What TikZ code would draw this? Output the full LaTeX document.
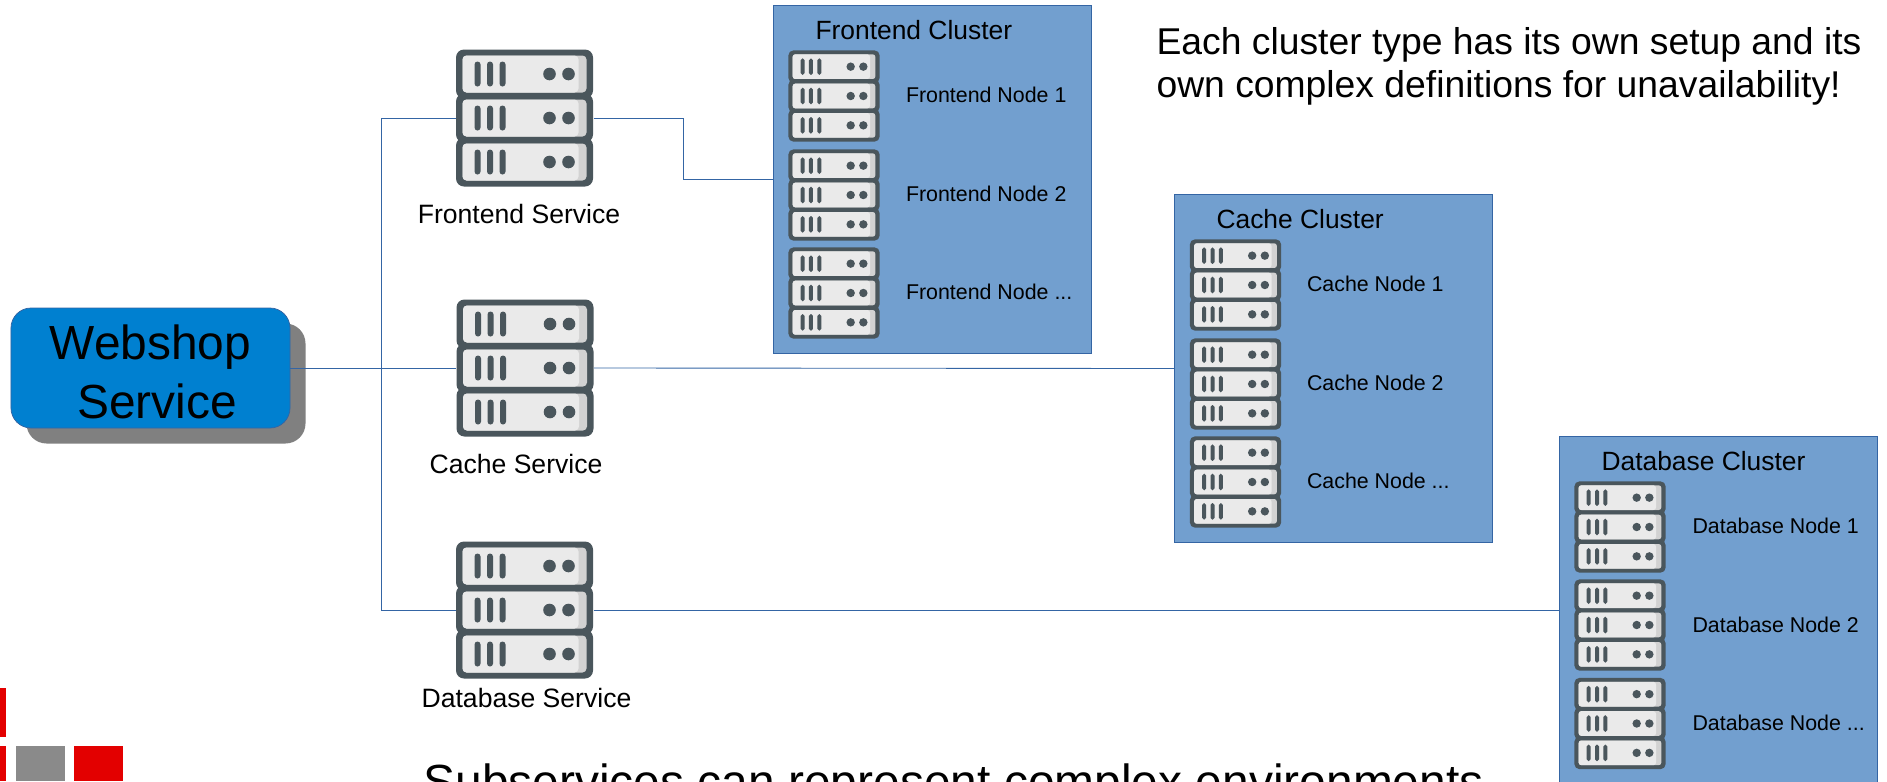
\documentclass[tikz,border=0pt]{standalone}
\usepackage{fontspec}
\usepackage{xcolor}
\usepackage{tikz}
\usetikzlibrary{shadows}
\setmainfont{Liberation Sans}
\definecolor{clusterblue}{HTML}{729FCF}
\definecolor{clusteredge}{HTML}{3465A4}
\definecolor{webshopblue}{HTML}{0080D0}
\definecolor{rackdark}{HTML}{4A565C}
\definecolor{racklight}{HTML}{EAEAEA}
\definecolor{rackshade}{HTML}{D2D2D2}
\definecolor{logored}{HTML}{E30000}
\definecolor{loggrey}{HTML}{8A8A8A}
\tikzset{
 wire/.style={draw=clusteredge,line width=0.35pt},
 cluster/.style={draw=clusteredge,fill=clusterblue,line width=0.35pt,minimum width=127.2pt,minimum height=139.2pt,inner sep=0pt},
 nodelabel/.style={anchor=base west,inner sep=0pt,font=\fontsize{8.55}{10}\selectfont},
 clusterlabel/.style={anchor=base west,inner sep=0pt,font=\fontsize{10.56}{12}\selectfont},
 servicelabel/.style={anchor=base,inner sep=0pt,font=\fontsize{10.63}{12}\selectfont},
 note/.style={inner sep=0pt,font=\fontsize{14.92}{17}\selectfont},
 pics/serverstack/.style={code={
  \foreach \rowy in {-44,44,0} {
   \fill[rackdark,rounded corners=#1] (-68.5,\rowy-24.5) rectangle (68.5,\rowy+24.5);
   \fill[rackshade,rounded corners=0.5*#1] (-62,\rowy-18.5) rectangle (62,\rowy+18.5);
   \fill[racklight,rounded corners=0.5*#1] (-62,\rowy-18.5) rectangle (54,\rowy+18.5);
   \fill[rackdark,rounded corners=0.37*#1] (-50,\rowy-12.5) rectangle (-44,\rowy+12.5);
   \fill[rackdark,rounded corners=0.37*#1] (-37.5,\rowy-12.5) rectangle (-31.5,\rowy+12.5);
   \fill[rackdark,rounded corners=0.37*#1] (-25,\rowy-12.5) rectangle (-19,\rowy+12.5);
   \fill[rackdark] (25,\rowy) circle (6.3);
   \fill[rackdark] (44,\rowy) circle (6.3);
  }
  \node (-box) [inner sep=0pt,minimum width=54.8pt,minimum height=54.8pt] {};
 }},
 smallrack/.style={scale=0.667,transform shape}
}
\begin{document}
\begin{tikzpicture}[x=0.4pt,y=-0.4pt]
 \path[use as bounding box,clip] (0,0) rectangle (1887,781);

 % service on the left
 \node (webshop) at (150.5,368) [fill=webshopblue,draw=clusteredge,line width=0.3pt,rounded corners=8pt,minimum width=111.6pt,minimum height=48pt,inner sep=0pt,general shadow={shadow xshift=6.2pt,shadow yshift=-6.2pt,fill=gray,draw=none}] {};
 \node (webshoptext) at (150.5,372) [inner sep=0pt,align=center,font=\fontsize{19.15}{23.4}\selectfont] {Webshop\\~Service};

 % clusters
 \node (frontendcluster) at (932,179) [cluster] {};
 \node (cachecluster) at (1333.5,368.5) [cluster] {};
 \node (dbcluster) at (1718.5,610) [cluster] {};

 % subservices
 \pic (srvfrontend) at (524.5,118) {serverstack=3.2pt};
 \pic (srvcache) at (525,368) {serverstack=3.2pt};
 \pic (srvdb) at (524.5,610) {serverstack=3.2pt};
 \node (lblfrontend) at (519,223) [servicelabel] {Frontend Service};
 \node (lblcache) at (516,473) [servicelabel] {Cache Service};
 \node (lbldb) at (526.5,707) [servicelabel] {Database Service};

 % connectors
 \coordinate (trunk) at (381,369);
 \coordinate (bend) at (683,118);
 \draw[wire] (webshop.east) -- (srvcache-box.west);
 \draw[wire] (trunk) |- (srvfrontend-box.west);
 \draw[wire] (trunk) |- (srvdb-box.west);
 \draw[wire] (srvfrontend-box.east) -- (bend) |- (frontendcluster.west);
 \draw[wire] (srvcache-box.east) -- (cachecluster.west);
 \draw[wire] (srvdb-box.east) -- (dbcluster.west);

 % frontend nodes
 \node (titlefrontend) at (815,39) [clusterlabel] {Frontend Cluster};
 \pic (fe1) at (834,96) [smallrack] {serverstack=2.1pt};
 \pic (fe2) at (834,195) [smallrack] {serverstack=2.1pt};
 \pic (fe3) at (834,293) [smallrack] {serverstack=2.1pt};
 \node (fenode1) at (905.5,102) [nodelabel] {Frontend Node 1};
 \node (fenode2) at (905.5,201) [nodelabel] {Frontend Node 2};
 \node (fenode3) at (905.5,299.5) [nodelabel] {Frontend Node ...};

 % cache nodes
 \node (titlecache) at (1216,228) [clusterlabel] {Cache Cluster};
 \pic (ca1) at (1235.5,285) [smallrack] {serverstack=2.1pt};
 \pic (ca2) at (1235.5,384) [smallrack] {serverstack=2.1pt};
 \pic (ca3) at (1235.5,482) [smallrack] {serverstack=2.1pt};
 \node (canode1) at (1306.5,291) [nodelabel] {Cache Node 1};
 \node (canode2) at (1306.5,390) [nodelabel] {Cache Node 2};
 \node (canode3) at (1306.5,488) [nodelabel] {Cache Node ...};

 % database nodes
 \node (titledb) at (1601,470) [clusterlabel] {Database Cluster};
 \pic (db1) at (1620,527) [smallrack] {serverstack=2.1pt};
 \pic (db2) at (1620,625) [smallrack] {serverstack=2.1pt};
 \pic (db3) at (1620,723.5) [smallrack] {serverstack=2.1pt};
 \node (dbnode1) at (1692,533) [nodelabel] {Database Node 1};
 \node (dbnode2) at (1692,632) [nodelabel] {Database Node 2};
 \node (dbnode3) at (1692,730) [nodelabel] {Database Node ...};

 % texts
 \node (noteclusters) at (1156,27) [note,anchor=north west,align=left] {Each cluster type has its own setup and its\\own complex definitions for unavailability!};
 \node (notesubservices) at (423,798) [note,anchor=base west,font=\fontsize{19.17}{22}\selectfont] {Subservices can represent complex environments};

 % logo corner
 \fill[logored] (0,688) rectangle (6,737);
 \fill[logored] (0,746) rectangle (6,781);
 \fill[loggrey] (16,746) rectangle (65,781);
 \fill[logored] (74,746) rectangle (123,781);
\end{tikzpicture}
\end{document}
